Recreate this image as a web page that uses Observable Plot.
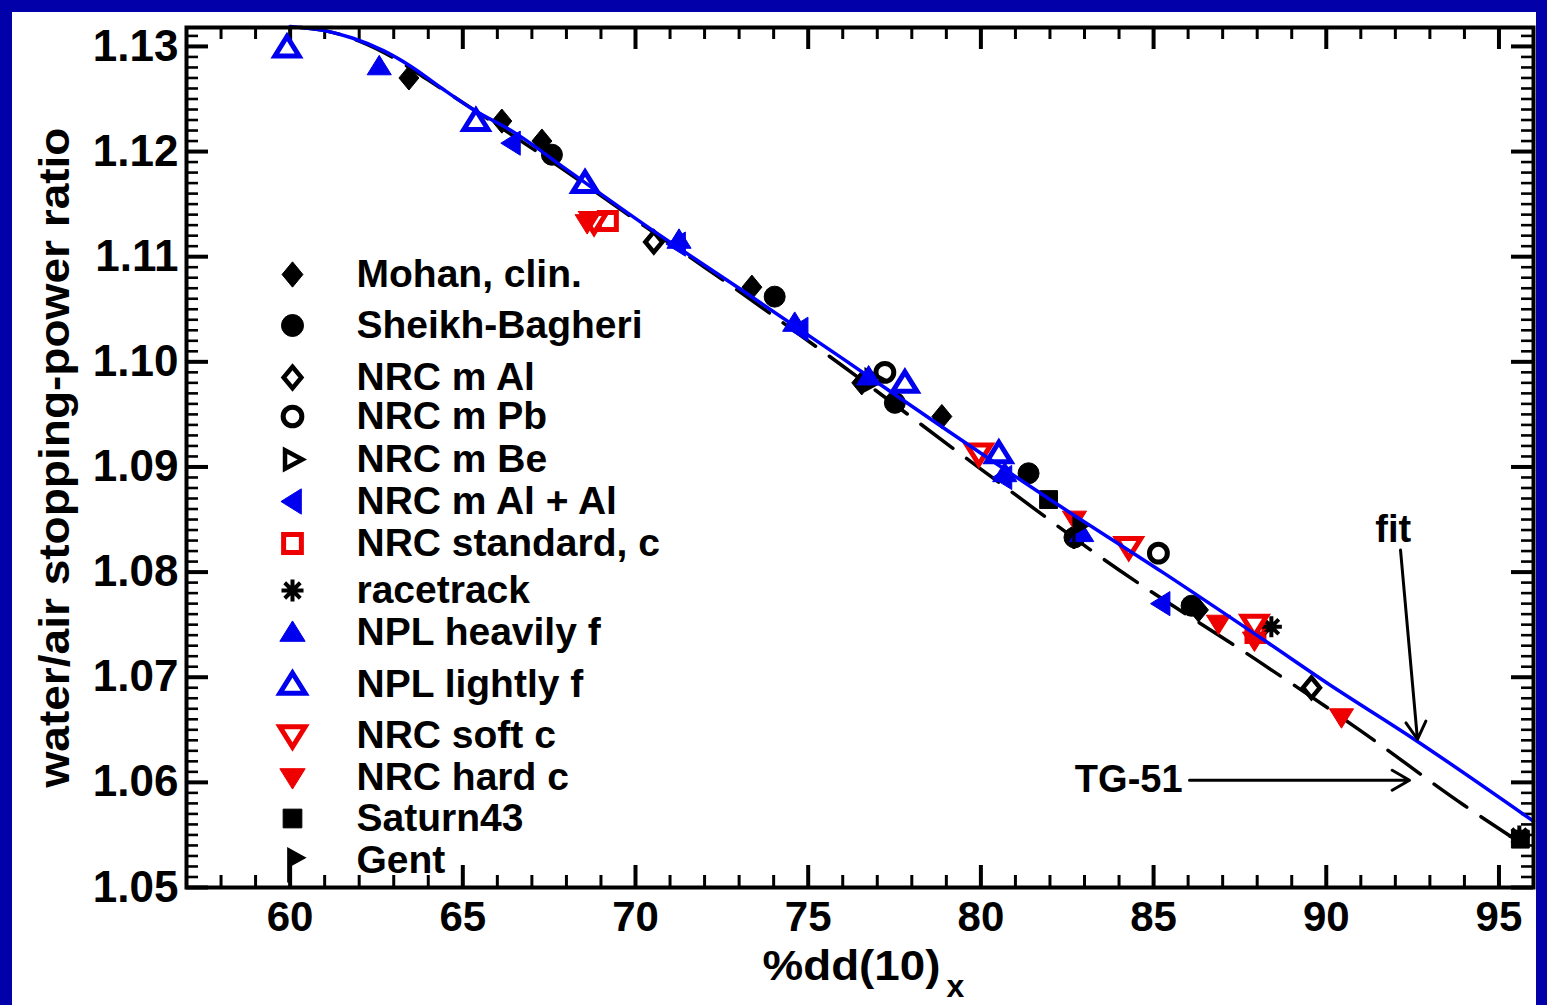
<!DOCTYPE html>
<html><head><meta charset="utf-8">
<script src="https://cdn.jsdelivr.net/npm/d3@7"></script>
<script src="https://cdn.jsdelivr.net/npm/@observablehq/plot@0.6"></script>
<style>
html,body{margin:0;padding:0;background:#0200a8;width:1547px;height:1005px;overflow:hidden}
#panel{position:absolute;left:12px;top:12px;width:1524px;height:993px;background:#fff}
</style></head><body><div id="panel"></div>
<script>
// ---------- data ----------
const seriesNames = ["Mohan, clin.","Sheikh-Bagheri","NRC m Al","NRC m Pb","NRC m Be","NRC m Al + Al","NRC standard, c","racetrack","NPL heavily f","NPL lightly f","NRC soft c","NRC hard c","Saturn43","Gent"];
const mohan = [[63.44,1.1270],[66.13,1.1229],[67.29,1.1210],[73.37,1.1071],[76.55,1.0980],[78.87,1.0948],[86.30,1.0764]];
const sheikh = [[67.58,1.1197],[74.03,1.1062],[77.51,1.0961],[81.38,1.0894],[82.71,1.0833],[86.10,1.0768]];
const nrcAl = [[70.53,1.1114],[89.57,1.0690]];
const nrcPb = [[77.22,1.0990],[85.14,1.0818]];
const nrcBe = [[76.90,1.0983]];
const nrcAlAl = [[66.42,1.1208],[71.20,1.1112],[74.75,1.1031],[80.65,1.0890],[85.23,1.0770]];
const nrcStd = [[69.20,1.1134],[87.95,1.0742]];
const racetrack = [[88.41,1.0748],[95.59,1.0549]];
const nplHeavy = [[62.58,1.1281],[71.26,1.1116],[74.61,1.1037],[76.75,1.0986],[80.69,1.0894],[82.92,1.0837]];
const nplLight = [[59.91,1.1299],[65.38,1.1229],[68.54,1.1170],[77.80,1.0980],[80.52,1.0913]];
const nrcSoft = [[68.80,1.1133],[79.94,1.0913],[84.28,1.0824],[87.92,1.0750]];
const nrcHard = [[68.60,1.1132],[82.71,1.0850],[86.88,1.0751],[87.92,1.0735],[90.44,1.0662]];
const saturn = [[81.96,1.0869],[95.62,1.0546]];
const gent = [[82.80,1.0842]];
const fitCurve = [[60.0,1.1319],[61.0,1.1315],[61.8,1.1308],[62.7,1.1296],[63.5,1.1281],[64.4,1.1260],[65.3,1.1240],[66.5,1.1218],[68.0,1.1183],[70.5,1.1125],[73.0,1.1070],[76.0,1.1003],[78.7,1.0942],[82.0,1.0869],[85.3,1.0799],[88.3,1.0733],[90.0,1.0695],[92.5,1.0642],[96.0,1.0563]];
const tg51Curve = [[60.3,1.1318],[61.0,1.1315],[62.0,1.1305],[63.0,1.1289],[64.0,1.1268],[66.0,1.1225],[68.0,1.1181],[70.0,1.1135],[72.0,1.1090],[76.0,1.0996],[80.0,1.0898],[84.0,1.0802],[88.0,1.0716],[91.0,1.0649],[94.0,1.0578],[95.6,1.0543]];
const xTicks = [60,65,70,75,80,85,90,95];
const yTicks = [1.05,1.06,1.07,1.08,1.09,1.10,1.11,1.12,1.13];
const annotLabels = [{label:"fit", x:91.94, y:1.0840},{label:"TG-51", x:84.28, y:1.0602}];
const annotArrows = [{x1:92.15,y1:1.0821,x2:92.64,y2:1.0641},{x1:86.04,y1:1.0602,x2:92.41,y2:1.0602}];
const xTitle = "%dd(10)";
const xTitleSub = "x";
const yTitle = "water/air stopping-power ratio";

// ---------- symbols ----------
function sym(f){return {draw(c,size){const r=Math.sqrt(size/Math.PI); f(c,r);}};}
const diamond = sym((c,r)=>{c.moveTo(0,-r*1.15);c.lineTo(r*0.95,0);c.lineTo(0,r*1.15);c.lineTo(-r*0.95,0);c.closePath();});
const circ = sym((c,r)=>{c.moveTo(r,0);c.arc(0,0,r,0,2*Math.PI);});
const triUp = sym((c,r)=>{c.moveTo(0,-r*1.05);c.lineTo(r*1.15,r*0.8);c.lineTo(-r*1.15,r*0.8);c.closePath();});
const triDown = sym((c,r)=>{c.moveTo(0,r*1.05);c.lineTo(r*1.15,-r*0.8);c.lineTo(-r*1.15,-r*0.8);c.closePath();});
const triLeft = sym((c,r)=>{c.moveTo(-r*1.05,0);c.lineTo(r*0.8,-r*1.15);c.lineTo(r*0.8,r*1.15);c.closePath();});
const triRight = sym((c,r)=>{c.moveTo(r*1.05,0);c.lineTo(-r*0.8,-r*1.0);c.lineTo(-r*0.8,r*1.0);c.closePath();});
const square = sym((c,r)=>{c.rect(-r*0.85,-r*0.85,r*1.7,r*1.7);});
const aster = sym((c,r)=>{for(let i=0;i<4;i++){const a=i*Math.PI/4;c.moveTo(r*Math.cos(a),r*Math.sin(a));c.lineTo(-r*Math.cos(a),-r*Math.sin(a));}});
const flag = sym((c,r)=>{c.moveTo(-r*0.35,r*2.0);c.lineTo(-r*0.35,-r*1.0);c.lineTo(r*1.0,-r*0.25);c.lineTo(-r*0.35,r*0.5);c.closePath();});

const BLUE="#0000ee", RED="#ee0000", BLK="#000";
const series = [
  {data:mohan, symbol:diamond, fill:BLK, stroke:BLK, sw:1},
  {data:sheikh, symbol:circ, fill:BLK, stroke:BLK, sw:1},
  {data:nrcAl, symbol:diamond, fill:"white", stroke:BLK, sw:4.5, k:0.85},
  {data:nrcPb, symbol:circ, fill:"white", stroke:BLK, sw:5, k:0.85},
  {data:nrcBe, symbol:triRight, fill:"white", stroke:BLK, sw:4.5, k:0.85},
  {data:nrcAlAl, symbol:triLeft, fill:BLUE, stroke:BLUE, sw:1},
  {data:nrcStd, symbol:square, fill:"white", stroke:RED, sw:5, k:0.95},
  {data:racetrack, symbol:aster, fill:"none", stroke:BLK, sw:4},
  {data:nplHeavy, symbol:triUp, fill:BLUE, stroke:BLUE, sw:1},
  {data:nplLight, symbol:triUp, fill:"white", stroke:BLUE, sw:5},
  {data:nrcSoft, symbol:triDown, fill:"white", stroke:RED, sw:5},
  {data:nrcHard, symbol:triDown, fill:RED, stroke:RED, sw:1},
  {data:saturn, symbol:square, fill:BLK, stroke:BLK, sw:1},
  {data:gent, symbol:flag, fill:BLK, stroke:BLK, sw:3}
];

// ---------- layout ----------
const W=1524, H=993, mL=174, mR=3, mT=15, mB=118;
const pw=W-mL-mR, ph=H-mT-mB;
const frameTopImg = 27, frameLeftImg = 186, frameRightImg = 1533;
const legendRowsY = [274,325,377,416,459,501,543,590,632,684,735,777,818,860];
const legendSymX = 292, legendTextX = 356;

const majorLen=22, minorLen=12;
const xMinor = d3.range(57,97,1).filter(v=>v%5!==0);
const yMinor = d3.range(1050,1132,1).filter(v=>v%10!==0).map(v=>v/1000);

const marks = [];
const tickStyle = {stroke:BLK};
marks.push(Plot.tickX(xTicks,{x:d=>d, insetTop:ph-majorLen, strokeWidth:4, ...tickStyle}));
marks.push(Plot.tickX(xMinor,{x:d=>d, insetTop:ph-minorLen, strokeWidth:3, ...tickStyle}));
marks.push(Plot.tickX(xTicks,{x:d=>d, insetBottom:ph-majorLen, strokeWidth:4, ...tickStyle}));
marks.push(Plot.tickX(xMinor,{x:d=>d, insetBottom:ph-minorLen, strokeWidth:3, ...tickStyle}));
marks.push(Plot.tickY(yTicks,{y:d=>d, insetRight:pw-majorLen, strokeWidth:4, ...tickStyle}));
marks.push(Plot.tickY(yMinor,{y:d=>d, insetRight:pw-minorLen, strokeWidth:2.6, ...tickStyle}));
marks.push(Plot.tickY(yTicks,{y:d=>d, insetLeft:pw-majorLen, strokeWidth:4, ...tickStyle}));
marks.push(Plot.tickY(yMinor,{y:d=>d, insetLeft:pw-minorLen, strokeWidth:2.6, ...tickStyle}));

marks.push(Plot.axisX(xTicks,{tickSize:0, tickPadding:14, fontSize:42, fontWeight:"bold", label:null}));
marks.push(Plot.axisY(yTicks,{tickSize:0, tickPadding:8, fontSize:44, fontWeight:"bold", tickFormat:d3.format(".2f"), label:null}));

marks.push(Plot.line(tg51Curve,{x:d=>d[0], y:d=>d[1], stroke:BLK, strokeWidth:3.5, strokeDasharray:"40,17", curve:"monotone-x"}));
for (const s of series) {
  marks.push(Plot.dot(s.data,{x:d=>d[0], y:d=>d[1], symbol:s.symbol, r:10.5*(s.k||1), fill:s.fill, stroke:s.stroke, strokeWidth:s.sw}));
}
marks.push(Plot.line(fitCurve,{x:d=>d[0], y:d=>d[1], stroke:"#0000ff", strokeWidth:3.5, curve:"monotone-x"}));

marks.push(Plot.text(annotLabels,{x:"x", y:"y", text:"label", fontSize:38, fontWeight:"bold", fill:BLK}));
marks.push(Plot.arrow(annotArrows,{x1:"x1",y1:"y1",x2:"x2",y2:"y2", stroke:BLK, strokeWidth:3, headLength:10, bend:0}));

series.forEach((s,i)=>{
  const dy = legendRowsY[i]-frameTopImg;
  marks.push(Plot.dot([seriesNames[i]],{frameAnchor:"top-left", dx:legendSymX-frameLeftImg, dy, symbol:s.symbol, r:11*(s.k||1), fill:s.fill, stroke:s.stroke, strokeWidth:s.sw}));
  marks.push(Plot.text([seriesNames[i]],{frameAnchor:"top-left", dx:legendTextX-frameLeftImg, dy, text:d=>d, textAnchor:"start", lineAnchor:"middle", fontSize:39, fontWeight:"bold", fill:BLK}));
});

marks.push(Plot.text([yTitle],{frameAnchor:"left", dx:55-frameLeftImg, rotate:-90, text:d=>d, textAnchor:"middle", fontSize:43, fontWeight:"bold", lineAnchor:"middle", className:"ytitle"}));
marks.push(Plot.text([xTitle],{frameAnchor:"bottom", dx:851-(frameLeftImg+frameRightImg)/2, dy:79, text:d=>d, textAnchor:"middle", fontSize:43, fontWeight:"bold", lineAnchor:"middle", className:"xtitle"}));
marks.push(Plot.text([xTitleSub],{frameAnchor:"bottom", dx:955-(frameLeftImg+frameRightImg)/2, dy:99, text:d=>d, textAnchor:"middle", fontSize:32, fontWeight:"bold", lineAnchor:"middle"}));

marks.push(Plot.frame({stroke:BLK, strokeWidth:4}));

const chart = Plot.plot({
  width:W, height:H, marginLeft:mL, marginRight:mR, marginTop:mT, marginBottom:mB,
  x:{domain:[57,96], axis:null},
  y:{domain:[1.05,1.1318], axis:null},
  style:{background:"white", color:"black", fontFamily:"'Liberation Sans', Arial, Helvetica, sans-serif", overflow:"visible"},
  marks
});
document.getElementById("panel").appendChild(chart);
d3.select(chart).selectAll(".ytitle text").attr("textLength",660).attr("lengthAdjust","spacingAndGlyphs");
d3.select(chart).selectAll(".xtitle text").attr("textLength",178).attr("lengthAdjust","spacingAndGlyphs");
</script></body></html>
